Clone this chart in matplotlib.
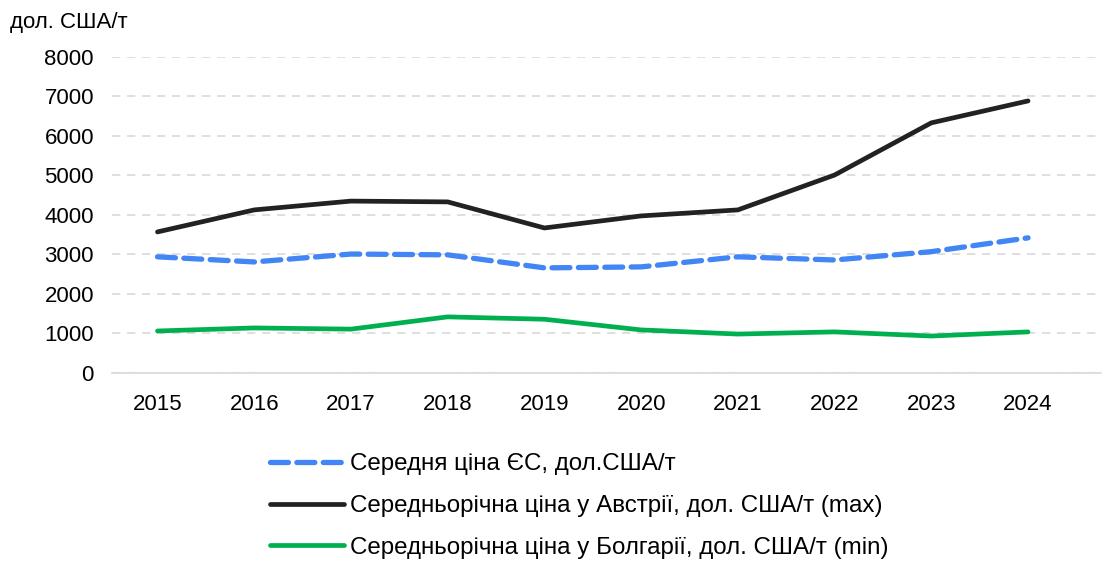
import matplotlib
matplotlib.use('Agg')
from matplotlib import pyplot as plt

plt.rcParams['font.family'] = ['Liberation Sans', 'DejaVu Sans']

years = [2015, 2016, 2017, 2018, 2019, 2020, 2021, 2022, 2023, 2024]
eu_avg = [2940, 2810, 3010, 2990, 2660, 2685, 2940, 2860, 3070, 3420]
austria = [3570, 4127, 4350, 4330, 3670, 3975, 4127, 5010, 6330, 6885]
bulgaria = [1063, 1140, 1110, 1420, 1360, 1090, 985, 1040, 935, 1040]

labels = [
    'Середня ціна ЄС, дол.США/т',
    'Середньорічна ціна у Австрії, дол. США/т (max)',
    'Середньорічна ціна у Болгарії, дол. США/т (min)',
]
yticks = [0, 1000, 2000, 3000, 4000, 5000, 6000, 7000, 8000]

fig = plt.figure(figsize=(11.17, 5.63), dpi=100)
ax = fig.add_axes([0.1003, 0.3375, 0.885, 0.5615])

x = list(range(len(years)))
ax.plot(x, eu_avg, color='#4285F4', lw=3.8, dashes=(3.4, 1.6),
        dash_capstyle='round', label=labels[0])
ax.plot(x, austria, color='#222222', lw=3.4, solid_capstyle='round', label=labels[1])
ax.plot(x, bulgaria, color='#00B050', lw=3.4, solid_capstyle='round', label=labels[2])

ax.set_xlim(-0.47, 9.75)
ax.set_ylim(0, 8000)
ax.set_yticks(yticks)
ax.set_xticks(x)
ax.set_xticklabels([str(y) for y in years])
ax.tick_params(length=0, labelsize=16, colors='black')
ax.tick_params(axis='y', pad=13)
ax.tick_params(axis='x', pad=15)

ax.grid(axis='y', color='#d9d9d9', lw=1.2, ls=(0, (5, 4)))
ax.set_axisbelow(True)
for s in ['top', 'right', 'left']:
    ax.spines[s].set_visible(False)
ax.spines['bottom'].set_color('#d9d9d9')
ax.spines['bottom'].set_linewidth(1.2)

fig.text(0.009, 0.96, 'дол. США/т', fontsize=16, ha='left', va='center')

fig.legend(loc='upper left', bbox_to_anchor=(0.242, 0.195), frameon=False,
           fontsize=17.4, handlelength=3.05, handletextpad=0.25,
           labelspacing=0.82, borderpad=0, borderaxespad=0)

fig.savefig('out.png', dpi=100)
